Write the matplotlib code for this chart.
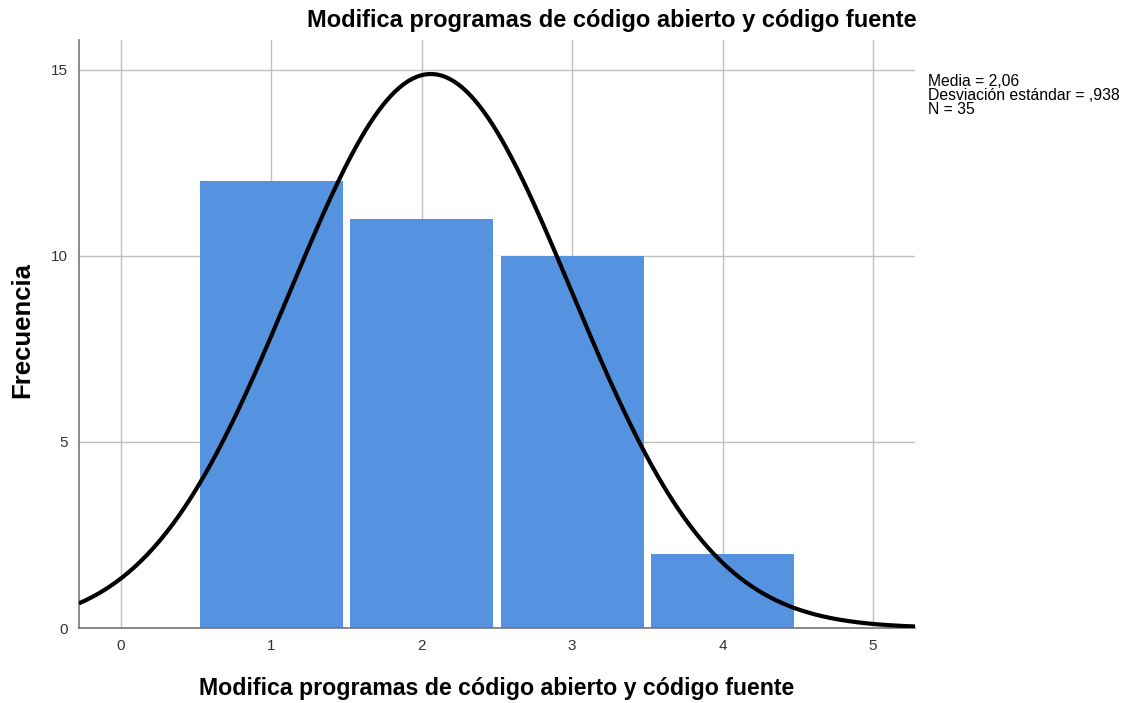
import numpy as np
import matplotlib
matplotlib.use("Agg")
import matplotlib.pyplot as plt

plt.rcParams["font.family"] = ["Liberation Sans", "DejaVu Sans"]

# data
categories = [1, 2, 3, 4]
counts = [12, 11, 10, 2]
x_ticks = [0, 1, 2, 3, 4, 5]
y_ticks = [0, 5, 10, 15]
media = 2.06
desviacion = 0.938
n_total = 35

title = "Modifica programas de código abierto y código fuente"
BAR_COLOR = "#5593e0"
GRID_COLOR = "#c0c0c0"

fig = plt.figure(figsize=(11.26, 7.03), dpi=100)
ax = fig.add_axes([79 / 1126, 1 - 628 / 703, (915 - 79) / 1126, (628 - 40) / 703])

ax.bar(categories, counts, width=0.95, color=BAR_COLOR, linewidth=0, zorder=2)

# white gaps between neighbouring bars hide the grid there
bounds = [(a + b) / 2 for a, b in zip(categories[:-1], categories[1:])]
gap_tops = [min(a, b) for a, b in zip(counts[:-1], counts[1:])]
ax.bar(bounds, gap_tops, width=0.05, color="white", linewidth=0, zorder=2)

# fitted normal curve (SPSS style: N * bin width * pdf)
xs = np.linspace(-0.28, 5.28, 400)
pdf = np.exp(-0.5 * ((xs - media) / desviacion) ** 2) / (desviacion * np.sqrt(2 * np.pi))
ax.plot(xs, n_total * 1.0 * pdf, color="black", lw=3, zorder=3, solid_capstyle="butt")

ax.set_xlim(-0.28, 5.28)
ax.set_ylim(0, 15.8)
ax.set_xticks(x_ticks)
ax.set_yticks(y_ticks)
ax.tick_params(length=0, labelsize=11, colors="#333333", pad=8)
ax.grid(True, color=GRID_COLOR, lw=1, zorder=0)
ax.set_axisbelow(True)
for side in ("top", "right"):
    ax.spines[side].set_visible(False)
for side in ("left", "bottom"):
    ax.spines[side].set_color("#777777")
    ax.spines[side].set_linewidth(1.2)

fig.text(612 / 1126, 1 - 21 / 703, title, ha="center", va="center",
         fontsize=17, fontweight="bold")
fig.text(497 / 1126, 1 - 689 / 703, title, ha="center", va="center",
         fontsize=16.7, fontweight="bold")
fig.text(22 / 1126, 1 - 330 / 703, "Frecuencia", ha="center", va="center",
         rotation=90, fontsize=18.5, fontweight="bold")

stats_text = (f"Media = {media:.2f}".replace(".", ",") + "\n"
              + "Desviación estándar = ,938\n"
              + f"N = {n_total}")
fig.text(928 / 1126, 1 - 74 / 703, stats_text, ha="left", va="top",
         fontsize=11.3, linespacing=0.9)

fig.savefig("out.png", dpi=100)
